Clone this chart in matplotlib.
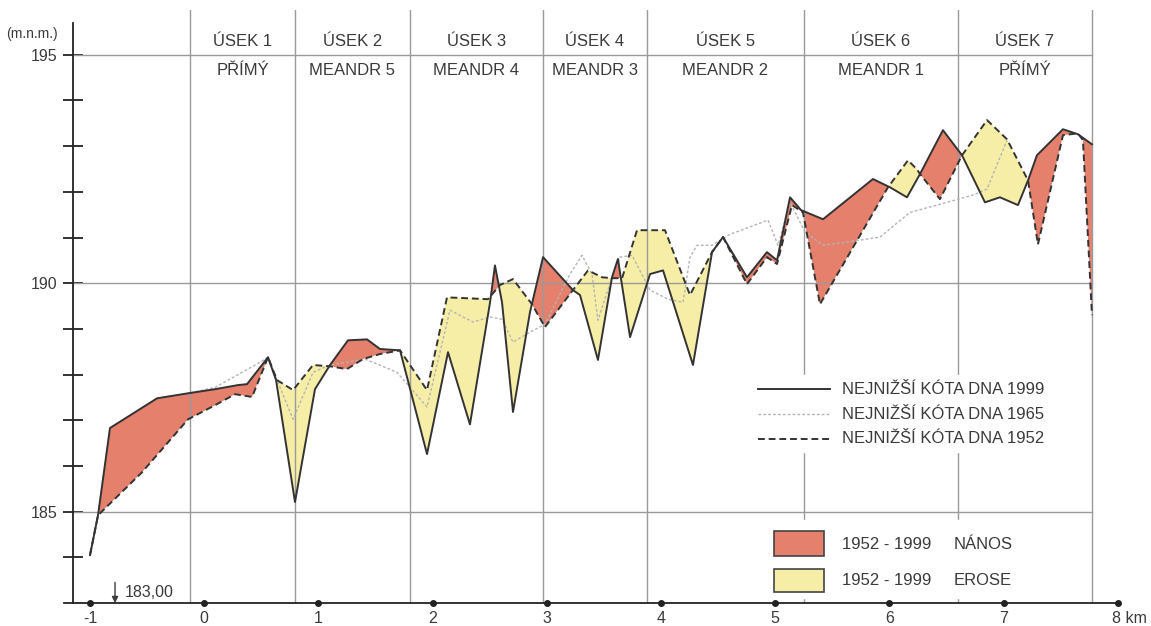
import numpy as np
import matplotlib.pyplot as plt
from matplotlib.patches import Rectangle

plt.rcParams['font.family'] = ['Liberation Sans', 'DejaVu Sans']

# river bed profile, km vs. lowest bed level (m n.m.)
km_1999 = [-1.00, -0.93, -0.825, -0.413, -0.142, 0.095, 0.296, 0.375, 0.559, 0.629,
           0.795, 0.970, 1.102, 1.259, 1.426, 1.539, 1.715, 1.951, 2.135, 2.327,
           2.503, 2.546, 2.608, 2.704, 2.853, 2.967, 3.229, 3.291, 3.448, 3.571,
           3.623, 3.729, 3.904, 4.018, 4.280, 4.447, 4.543, 4.753, 4.928, 5.016,
           5.130, 5.226, 5.419, 5.856, 6.005, 6.154, 6.268, 6.469, 6.636, 6.837,
           6.968, 7.126, 7.214, 7.292, 7.520, 7.651, 7.774]
z_1999 = [184.05, 184.92, 186.83, 187.48, 187.59, 187.68, 187.77, 187.79, 188.38, 187.88,
          185.21, 187.68, 188.21, 188.75, 188.77, 188.56, 188.53, 186.26, 188.49, 186.91,
          189.58, 190.39, 189.58, 187.18, 189.37, 190.57, 189.85, 189.74, 188.32, 190.13,
          190.53, 188.82, 190.20, 190.28, 188.21, 190.68, 191.01, 190.13, 190.68, 190.50,
          191.88, 191.60, 191.40, 192.28, 192.10, 191.88, 192.39, 193.35, 192.80, 191.77,
          191.88, 191.71, 192.25, 192.80, 193.37, 193.26, 193.04]

km_1965 = [-1.00, -0.93, -0.825, -0.413, -0.142, 0.095, 0.462, 0.559, 0.664, 0.778,
           0.953, 1.102, 1.408, 1.688, 1.951, 2.152, 2.354, 2.503, 2.608, 2.704,
           2.853, 2.984, 3.203, 3.308, 3.396, 3.448, 3.571, 3.641, 3.746, 3.904,
           4.061, 4.193, 4.254, 4.315, 4.447, 4.604, 4.937, 5.025, 5.130, 5.261,
           5.419, 5.629, 5.918, 6.180, 6.417, 6.732, 6.855, 7.030]
z_1965 = [184.05, 184.92, 186.83, 187.48, 187.59, 187.72, 188.23, 188.38, 187.72, 187.02,
          188.05, 188.21, 188.34, 188.05, 187.29, 189.41, 189.15, 189.26, 189.21, 188.71,
          188.93, 189.10, 190.20, 190.61, 190.20, 189.19, 190.13, 190.57, 190.61, 189.85,
          189.65, 189.58, 190.57, 190.83, 190.83, 191.07, 191.38, 190.83, 191.77, 191.12,
          190.83, 190.90, 191.01, 191.55, 191.71, 191.93, 192.06, 193.13]

km_1952 = [-1.00, -0.93, -0.545, -0.142, 0.095, 0.270, 0.419, 0.559, 0.637, 0.778,
           0.953, 1.102, 1.250, 1.391, 1.539, 1.715, 1.951, 2.126, 2.485, 2.590,
           2.704, 2.870, 2.984, 3.229, 3.361, 3.483, 3.571, 3.659, 3.790, 4.035,
           4.254, 4.447, 4.543, 4.753, 4.928, 5.016, 5.147, 5.243, 5.392, 5.988,
           6.163, 6.242, 6.268, 6.443, 6.636, 6.855, 7.030, 7.214, 7.301, 7.520,
           7.651, 7.695, 7.774]
z_1952 = [184.05, 184.92, 185.86, 187.02, 187.33, 187.57, 187.51, 188.38, 187.88, 187.66,
          188.21, 188.18, 188.12, 188.34, 188.45, 188.53, 187.66, 189.69, 189.65, 189.96,
          190.09, 189.54, 189.04, 189.85, 190.28, 190.13, 190.11, 190.11, 191.16, 191.16,
          189.74, 190.68, 191.01, 189.98, 190.57, 190.42, 191.71, 191.55, 189.54, 192.10,
          192.69, 192.49, 192.39, 191.84, 192.80, 193.57, 193.15, 192.25, 190.85, 193.24,
          193.28, 193.13, 189.30]

# river sections
bounds = [-0.124, 0.795, 1.80, 2.967, 3.877, 5.25, 6.60, 7.77]
sec_top = ["ÚSEK 1", "ÚSEK 2", "ÚSEK 3", "ÚSEK 4", "ÚSEK 5", "ÚSEK 6", "ÚSEK 7"]
sec_bot = ["PŘÍMÝ", "MEANDR 5", "MEANDR 4", "MEANDR 3", "MEANDR 2", "MEANDR 1", "PŘÍMÝ"]

red = "#e4806c"
yellow = "#f6eea6"
txt = "#3a3a3a"
grid_c = "#9a9a9a"
fs = 12

fig = plt.figure(figsize=(11.51, 6.26), dpi=100)
ax = fig.add_axes([73 / 1151, 23 / 626, 1057 / 1151, 593 / 626])
ax.set_xlim(-1.149, 8.107)
ax.set_ylim(183, 195.98)

# grid / sections
for yv in [185, 190, 195]:
    ax.plot([-1.149, 7.77], [yv, yv], color=grid_c, lw=1, zorder=2)
for b in bounds:
    ax.plot([b, b], [183, 195.98], color=grid_c, lw=1, zorder=2)
for i in range(7):
    xc = (bounds[i] + bounds[i + 1]) / 2
    ax.text(xc, 195.28, sec_top[i], ha="center", va="center", fontsize=fs, color=txt)
    ax.text(xc, 194.66, sec_bot[i], ha="center", va="center", fontsize=fs, color=txt)

# erosion / deposition areas between 1952 and 1999
grid = np.union1d(km_1999, km_1952)
a = np.interp(grid, km_1999, z_1999)
b = np.interp(grid, km_1952, z_1952)
ax.fill_between(grid, a, b, where=a >= b, interpolate=True, color=red, lw=0, zorder=1)
ax.fill_between(grid, a, b, where=a <= b, interpolate=True, color=yellow, lw=0, zorder=1)

ax.plot(km_1965, z_1965, color="#b4b4b4", lw=1, ls=(0, (2, 1.5)), zorder=3)
ax.plot(km_1952, z_1952, color="#333333", lw=1.4, ls=(0, (3.5, 2)), zorder=4)
ax.plot(km_1999, z_1999, color="#333333", lw=1.4, zorder=5)

# axes
for s in ["top", "right", "bottom"]:
    ax.spines[s].set_visible(False)
ax.spines["left"].set_bounds(183, 195.7)
ax.spines["left"].set_linewidth(1.3)
ax.spines["left"].set_color("#222222")
ax.set_yticks([185, 190, 195])
ax.set_yticks(range(184, 196), minor=True)
ax.tick_params(axis="y", which="both", direction="inout", length=14, width=1.3,
               color="#222222", labelsize=11.5, labelcolor=txt, pad=4)

ax.plot([-1.228, 8.0], [183, 183], color="#222222", lw=1.3, clip_on=False, zorder=6)
ax.plot(range(-1, 9), [183] * 10, "o", color="#222222", ms=4, clip_on=False, zorder=7)
ax.set_xticks(range(-1, 8))
ax.set_xticklabels([str(k) for k in range(-1, 8)])
ax.tick_params(axis="x", length=0, labelsize=11.5, labelcolor=txt, pad=6)
ax.annotate("8 km", xy=(8, 183), xytext=(-4, -6), textcoords="offset points",
            ha="left", va="top", fontsize=11.5, color=txt, annotation_clip=False)

fig.text(6 / 1151, 1 - 34 / 626, "(m.n.m.)", fontsize=10, color=txt, va="center")

# lowest level mark
ax.annotate("", xy=(-0.781, 183.0), xytext=(-0.781, 183.45),
            arrowprops=dict(arrowstyle="-|>", color=txt, lw=1, mutation_scale=9,
                            shrinkA=0, shrinkB=0))
ax.text(-0.70, 183.22, "183,00", fontsize=11.5, color=txt, va="center", ha="left")

# legend
ax.add_patch(Rectangle((4.76, 186.3), 2.74, 1.7, color="white", zorder=6))
ax.add_patch(Rectangle((4.93, 183.1), 1.95, 1.72, color="white", zorder=6))
leg_y = [187.68, 187.13, 186.59]
ax.plot([4.85, 5.48], [leg_y[0]] * 2, color="#333333", lw=1.4, zorder=7)
ax.plot([4.85, 5.48], [leg_y[1]] * 2, color="#b4b4b4", lw=1, ls=(0, (2, 1.5)), zorder=7)
ax.plot([4.85, 5.48], [leg_y[2]] * 2, color="#333333", lw=1.4, ls=(0, (3.5, 2)), zorder=7)
for yv, lab in zip(leg_y, ["NEJNIŽŠÍ KÓTA DNA 1999", "NEJNIŽŠÍ KÓTA DNA 1965",
                           "NEJNIŽŠÍ KÓTA DNA 1952"]):
    ax.text(5.585, yv, lab, fontsize=fs, color=txt, va="center", zorder=8)

ax.add_patch(Rectangle((4.989, 184.03), 0.438, 0.55, facecolor=red, edgecolor="#444444",
                       lw=1.2, zorder=7))
ax.add_patch(Rectangle((4.989, 183.24), 0.438, 0.50, facecolor=yellow, edgecolor="#444444",
                       lw=1.2, zorder=7))
ax.text(5.585, 184.28, "1952 - 1999", fontsize=fs, color=txt, va="center", zorder=8)
ax.text(6.56, 184.28, "NÁNOS", fontsize=fs, color=txt, va="center", zorder=8)
ax.text(5.585, 183.50, "1952 - 1999", fontsize=fs, color=txt, va="center", zorder=8)
ax.text(6.56, 183.50, "EROSE", fontsize=fs, color=txt, va="center", zorder=8)

fig.savefig("out.png", dpi=100)
